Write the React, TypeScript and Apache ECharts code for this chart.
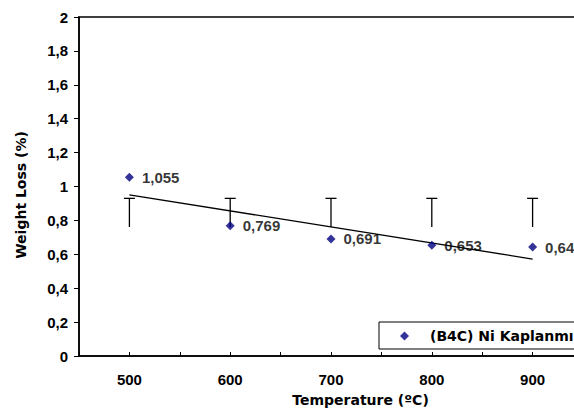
import React, { useEffect, useRef } from "react";
import * as echarts from "echarts";

const temperatures = [500, 600, 700, 800, 900];
const xTickLabels = ["500", "600", "700", "800", "900"];
const weightLoss = [1.055, 0.769, 0.691, 0.653, 0.643];
const valueLabels = ["1,055", "0,769", "0,691", "0,653", "0,643"];
const errLow = [0.761, 0.761, 0.761, 0.761, 0.761];
const errHigh = [0.93, 0.93, 0.93, 0.93, 0.93];
const trendX = [500, 900];
const trendY = [0.951, 0.572];
const yTickLabels = ["0", "0,2", "0,4", "0,6", "0,8", "1", "1,2", "1,4", "1,6", "1,8", "2"];
const seriesName = "(B4C) Ni Kaplanmış";
const xTitle = "Temperature (ºC)";
const yTitle = "Weight Loss (%)";

const NUM_FONT = "'Liberation Sans', Arial, sans-serif";
const TXT_FONT = "'DejaVu Sans', Verdana, sans-serif";

export default function App() {
  const ref = useRef<HTMLDivElement>(null);
  useEffect(() => {
    if (!ref.current) return;
    const chart = echarts.init(ref.current, undefined, { renderer: "svg" });
    const option: any = {
      animation: false,
      backgroundColor: "#fff",
      grid: {
        left: 79,
        top: 17,
        right: 17,
        bottom: 57,
        show: true,
        borderColor: "#000",
        borderWidth: 1.5,
        backgroundColor: "transparent",
      },
      legend: {
        left: 379,
        top: 322,
        orient: "horizontal",
        data: [{ name: seriesName, icon: "diamond" }],
        itemWidth: 9,
        itemHeight: 9,
        padding: [6, 40, 5, 21],
        borderColor: "#000",
        borderWidth: 1,
        backgroundColor: "#fff",
        textStyle: {
          fontFamily: TXT_FONT,
          fontWeight: "bold",
          fontSize: 14,
          color: "#000",
          lineHeight: 16,
          padding: [0, 0, 0, 16],
        },
      },
      xAxis: {
        type: "value",
        min: 450,
        max: 950,
        interval: 50,
        axisLine: { show: true, lineStyle: { color: "#000", width: 1.5 } },
        axisTick: { show: true, inside: true, length: 4, lineStyle: { color: "#000" } },
        splitLine: { show: false },
        axisLabel: {
          margin: 16,
          color: "#000",
          fontFamily: NUM_FONT,
          fontWeight: "bold",
          fontSize: 15,
          showMinLabel: true,
          showMaxLabel: true,
          formatter: (v: number) => {
            const i = temperatures.indexOf(v);
            return i >= 0 ? xTickLabels[i] : "";
          },
        },
      },
      yAxis: {
        type: "value",
        min: 0,
        max: 2,
        interval: 0.2,
        axisLine: { show: true, lineStyle: { color: "#000", width: 1.5 } },
        axisTick: { show: true, inside: false, length: 5, lineStyle: { color: "#000" } },
        splitLine: { show: false },
        axisLabel: {
          margin: 11,
          color: "#000",
          fontFamily: NUM_FONT,
          fontWeight: "bold",
          fontSize: 15,
          formatter: (v: number) => yTickLabels[Math.round(v / 0.2)] ?? "",
        },
      },
      graphic: [
        {
          type: "text",
          x: 360.5,
          y: 400,
          style: {
            text: xTitle,
            align: "center",
            verticalAlign: "middle",
            fontFamily: TXT_FONT,
            fontWeight: "bold",
            fontSize: 14,
            fill: "#000",
          },
        },
        {
          type: "text",
          x: 21,
          y: 195,
          rotation: Math.PI / 2,
          style: {
            text: yTitle,
            align: "center",
            verticalAlign: "middle",
            fontFamily: TXT_FONT,
            fontWeight: "bold",
            fontSize: 14,
            fill: "#000",
          },
        },
      ],
      series: [
        {
          type: "custom",
          name: "err",
          silent: true,
          z: 2,
          data: temperatures.map((t, i) => [t, errLow[i], errHigh[i]]),
          renderItem: (params: any, api: any) => {
            const x = api.value(0);
            const pLo = api.coord([x, api.value(1)]);
            const pHi = api.coord([x, api.value(2)]);
            const st = { stroke: "#000", lineWidth: 1.3 };
            return {
              type: "group",
              children: [
                { type: "line", shape: { x1: pLo[0], y1: pLo[1], x2: pHi[0], y2: pHi[1] }, style: st },
                { type: "line", shape: { x1: pHi[0] - 5.5, y1: pHi[1], x2: pHi[0] + 5.5, y2: pHi[1] }, style: st },
              ],
            };
          },
        },
        {
          type: "line",
          name: "trend",
          silent: true,
          z: 3,
          symbol: "none",
          data: trendX.map((x, i) => [x, trendY[i]]),
          lineStyle: { color: "#000", width: 1.3 },
        },
        {
          type: "scatter",
          name: seriesName,
          z: 4,
          symbol: "diamond",
          symbolSize: 9,
          itemStyle: { color: "#000080" },
          data: temperatures.map((t, i) => [t, weightLoss[i]]),
          label: {
            show: true,
            position: "right",
            distance: 8,
            color: "#000",
            fontFamily: NUM_FONT,
            fontWeight: "bold",
            fontSize: 15,
            formatter: (p: any) => valueLabels[p.dataIndex],
          },
        },
      ],
    };
    chart.setOption(option);
    return () => chart.dispose();
  }, []);
  return (
    <div
      style={{
        position: "fixed",
        left: 0,
        top: 0,
        width: 574,
        height: 413,
        overflow: "hidden",
        background: "#fff",
      }}
    >
      <div ref={ref} style={{ width: 600, height: 413 }} />
    </div>
  );
}
